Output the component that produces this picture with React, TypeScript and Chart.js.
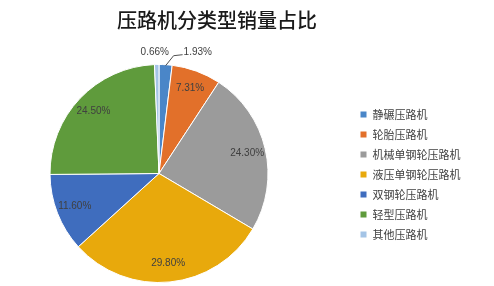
import React, { useEffect, useRef } from "react";
import { Chart, registerables } from "chart.js";

Chart.register(...registerables);

const chartTitle = "压路机分类型销量占比";
const categories = [
  "静碾压路机",
  "轮胎压路机",
  "机械单钢轮压路机",
  "液压单钢轮压路机",
  "双钢轮压路机",
  "轻型压路机",
  "其他压路机",
];
const shares = [1.93, 7.31, 24.3, 29.8, 11.6, 24.5, 0.66];

const sliceColors = [
  "#4A86C8",
  "#E2702A",
  "#9B9B9B",
  "#E8A90C",
  "#3F6DBE",
  "#5F9B3C",
  "#A4C4E6",
];

const labelPlugin = {
  id: "sliceLabels",
  afterDatasetsDraw(chart: any) {
    const meta = chart.getDatasetMeta(0);
    const ctx = chart.ctx as CanvasRenderingContext2D;
    ctx.save();
    ctx.font = '10px "Liberation Sans", Arial, sans-serif';
    ctx.fillStyle = "#404040";
    ctx.strokeStyle = "#505050";
    ctx.lineWidth = 1;
    meta.data.forEach((arc: any, i: number) => {
      const { x, y, startAngle, endAngle, outerRadius } = arc.getProps(
        ["x", "y", "startAngle", "endAngle", "outerRadius"],
        true
      );
      const mid = (startAngle + endAngle) / 2;
      const v = shares[i];
      const text = v.toFixed(2) + "%";
      const cx = Math.cos(mid);
      const cy = Math.sin(mid);
      if (v >= 5) {
        const r = outerRadius * 0.83;
        ctx.textAlign = "center";
        ctx.textBaseline = "middle";
        ctx.fillText(text, x + cx * r, y + cy * r);
      } else {
        const ex = x + cx * outerRadius;
        const ey = y + cy * outerRadius;
        if (cx > 0) {
          ctx.beginPath();
          ctx.moveTo(ex, ey + 1);
          ctx.lineTo(ex + 8, ey - 9);
          ctx.lineTo(ex + 17, ey - 10);
          ctx.stroke();
          ctx.textAlign = "left";
          ctx.textBaseline = "middle";
          ctx.fillText(text, ex + 18, ey - 12);
        } else {
          ctx.textAlign = "center";
          ctx.textBaseline = "middle";
          ctx.fillText(text, ex - 2, ey - 12);
        }
      }
    });
    ctx.restore();
  },
};

export default function App() {
  const canvasRef = useRef<HTMLCanvasElement | null>(null);

  useEffect(() => {
    document.body.style.margin = "0";
    const canvas = canvasRef.current;
    if (!canvas) return;
    const chart = new Chart(canvas, {
      type: "pie",
      data: {
        labels: categories,
        datasets: [
          {
            data: shares,
            backgroundColor: sliceColors,
            borderColor: "#ffffff",
            borderWidth: 1,
          },
        ],
      },
      options: {
        responsive: false,
        animation: false,
        layout: { padding: { top: 0, bottom: 3, left: 0, right: 0 } },
        plugins: {
          title: {
            display: true,
            text: chartTitle,
            color: "#1a1a1a",
            font: {
              family: '"Noto Sans CJK SC", sans-serif',
              size: 20,
              weight: 500,
            },
            padding: { top: 8, bottom: 32 },
          },
          legend: {
            position: "right",
            maxWidth: 116,
            title: {
              display: true,
              text: " ",
              font: { size: 10 },
              padding: { top: 27, bottom: 27 },
            },
            labels: {
              boxWidth: 7,
              boxHeight: 7,
              padding: 9,
              color: "#404040",
              font: { family: '"Noto Sans CJK SC", sans-serif', size: 11 },
            },
          },
          tooltip: { enabled: false },
        },
      } as any,
      plugins: [labelPlugin],
    });
    return () => chart.destroy();
  }, []);

  return (
    <div
      style={{
        position: "relative",
        width: 494,
        height: 286,
        overflow: "hidden",
        background: "#ffffff",
      }}
    >
      <canvas
        ref={canvasRef}
        width={500}
        height={286}
        style={{ position: "absolute", left: -33, top: 0, width: 500, height: 286 }}
      />
    </div>
  );
}
